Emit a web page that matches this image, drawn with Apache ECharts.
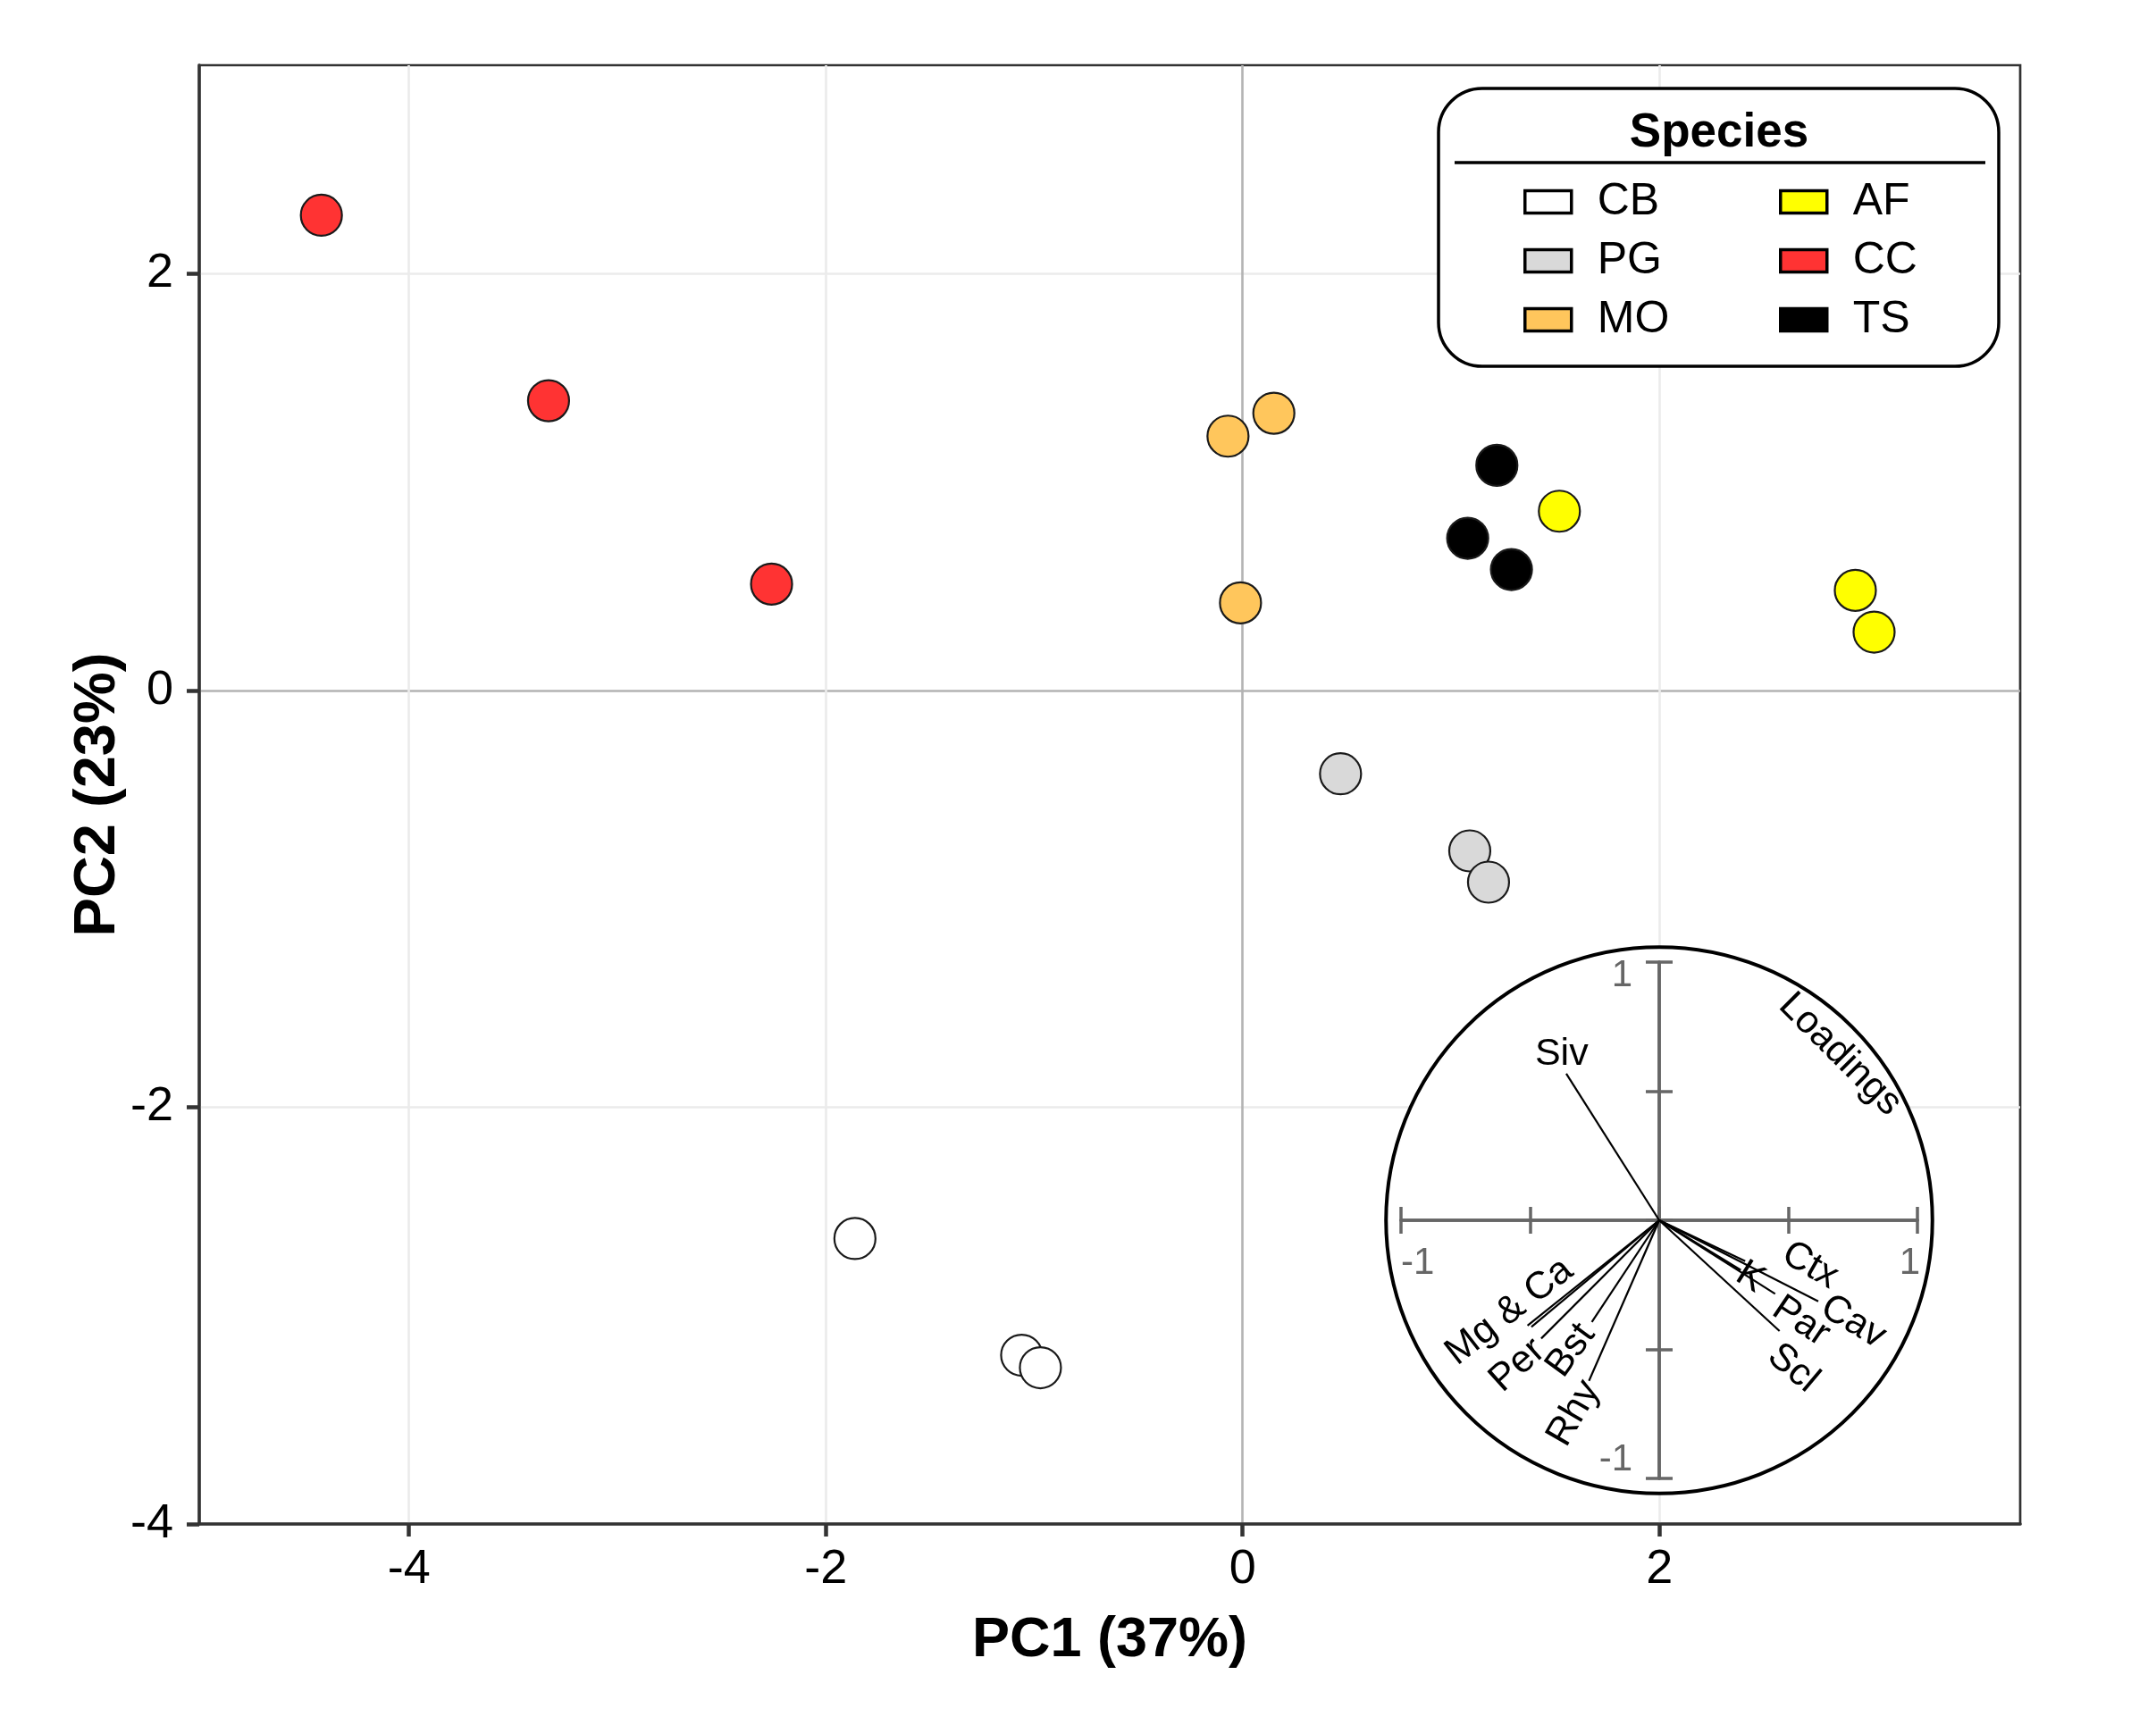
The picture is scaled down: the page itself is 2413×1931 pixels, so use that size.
<!DOCTYPE html>
<html>
<head>
    <meta charset="utf-8">
    <title>PCA Species</title>
    <style>
        html,
        body,
        #chart {
            margin: 0px;
            padding: 0px;
            height: 100%;
            width: 100%;
            background: #ffffff;
        }

        html {
            overflow: hidden;
        }
    </style>
</head>

<body>
    <div id="chart"></div>
    <script src="https://cdn.jsdelivr.net/npm/echarts@6/dist/echarts.min.js"></script>
    <script type="text/javascript">
        // species scores on PC1 / PC2
        var speciesNames = ['CB', 'PG', 'MO', 'AF', 'CC', 'TS'];
        var scoresCB = [[-1.86, -2.63], [-1.06, -3.19], [-0.97, -3.25]];
        var scoresPG = [[0.47, -0.40], [1.09, -0.77], [1.18, -0.92]];
        var scoresMO = [[-0.07, 1.22], [0.15, 1.33], [-0.01, 0.42]];
        var scoresAF = [[1.52, 0.86], [2.94, 0.48], [3.03, 0.28]];
        var scoresCC = [[-4.42, 2.28], [-3.33, 1.39], [-2.26, 0.51]];
        var scoresTS = [[1.22, 1.08], [1.08, 0.73], [1.29, 0.58]];
        var speciesScores = [scoresCB, scoresPG, scoresMO, scoresAF, scoresCC, scoresTS];
        var speciesColors = ['#ffffff', '#d9d9d9', '#ffc65c', '#ffff00', '#ff3333', '#000000'];

        // axis ticks
        var xTicks = [-4, -2, 0, 2];
        var yTicks = [-4, -2, 0, 2];
        var insetTicks = [-1, -0.5, 0, 0.5, 1];
        var insetXLabels = [-1, 1];
        var insetYLabels = [1, -1];

        // loadings (inset)
        var loadingNames = ['Siv', 'Mg', 'Ca', 'Per', 'Bst', 'Rhy', 'Ctx', 'K', 'Cav', 'Par', 'Scl'];
        var loadingPC1 = [-0.36, -0.51, -0.495, -0.457, -0.261, -0.272, 0.333, 0.316, 0.616, 0.449, 0.466];
        var loadingPC2 = [0.568, -0.408, -0.413, -0.458, -0.394, -0.622, -0.158, -0.193, -0.314, -0.285, -0.429];
        var loadingCircle = 1.058;

        // loading labels
        var labelText = ['Siv', 'Mg & Ca', 'Per', 'Bst', 'Rhy', 'Ctx', 'K', 'Par', 'Cav', 'Scl', 'Loadings'];
        var labelPC1 = [-0.378, -0.58, -0.549, -0.342, -0.33, 0.584, 0.353, 0.549, 0.751, 0.518, 0.70];
        var labelPC2 = [0.642, -0.354, -0.562, -0.504, -0.748, -0.175, -0.221, -0.392, -0.394, -0.573, 0.642];
        var labelAngle = [0, 38, 42, 54, 60, -30, -32, -34, -31, -40, -45];

        var FONT = '"Liberation Sans", Arial, Helvetica, sans-serif';

        var chart = echarts.init(document.getElementById('chart'));

        function gridColors(ticks) {
            return ticks.map(function (v) {
                return v === 0 ? '#b3b3b3' : '#ebebeb';
            });
        }

        function mainAxis(ticks, name, gap, nameSize, margin) {
            return {
                gridIndex: 0,
                type: 'value',
                name: name,
                nameLocation: 'middle',
                nameGap: gap,
                nameMoveOverlap: false,
                nameTextStyle: {
                    fontSize: nameSize,
                    fontWeight: 'bold',
                    color: '#000',
                    fontFamily: FONT
                },
                axisLine: {
                    show: true,
                    onZero: false,
                    lineStyle: { color: '#333', width: 3.5 }
                },
                axisTick: {
                    show: true,
                    length: 14,
                    customValues: ticks,
                    lineStyle: { color: '#333', width: 4.5 }
                },
                axisLabel: {
                    customValues: ticks,
                    margin: margin,
                    fontSize: 54,
                    color: '#000',
                    fontFamily: FONT
                },
                splitLine: {
                    show: true,
                    lineStyle: { color: gridColors(ticks), width: 2.6 }
                }
            };
        }

        //inset axes: a pair per direction (opposite sides) so the ticks cross the line
        function insetAxis(position) {
            return {
                gridIndex: 1,
                type: 'value',
                position: position,
                min: -1,
                max: 1,
                z: 4,
                axisLine: {
                    show: true,
                    onZero: true,
                    lineStyle: { color: '#666', width: 3.5 }
                },
                axisTick: {
                    show: true,
                    inside: false,
                    length: 15,
                    customValues: insetTicks,
                    lineStyle: { color: '#666', width: 3.5 }
                },
                axisLabel: { show: false },
                splitLine: { show: false }
            };
        }

        var xMain = mainAxis(xTicks, 'PC1 (37%)', 99, 63, 24);
        xMain.min = -5.006;
        xMain.max = 3.731;
        var yMain = mainAxis(yTicks, 'PC2 (23%)', 80, 65, 29);
        yMain.min = -4;
        yMain.max = 3.0;

        var series = speciesNames.map(function (name, i) {
            return {
                name: name,
                type: 'scatter',
                xAxisIndex: 0,
                yAxisIndex: 0,
                z: 2,
                symbol: 'circle',
                symbolSize: 46,
                itemStyle: {
                    color: speciesColors[i],
                    borderColor: '#1a1a1a',
                    borderWidth: 2.2,
                    opacity: 1
                },
                data: speciesScores[i]
            };
        });

        // correlation circle
        series.push({
            type: 'custom',
            xAxisIndex: 1,
            yAxisIndex: 1,
            z: 3,
            clip: false,
            silent: true,
            data: [[loadingCircle, 0]],
            renderItem: function (params, api) {
                var c = api.coord([0, 0]);
                var e = api.coord([api.value(0), 0]);
                return {
                    type: 'circle',
                    shape: { cx: c[0], cy: c[1], r: e[0] - c[0] },
                    style: { fill: '#fff', stroke: '#000', lineWidth: 4 }
                };
            }
        });

        // inset tick labels (-1 / 1)
        series.push({
            type: 'custom',
            xAxisIndex: 1,
            yAxisIndex: 1,
            z: 4,
            clip: false,
            silent: true,
            data: insetXLabels.map(function (v) {
                return [v, 0];
            }).concat(insetYLabels.map(function (v) {
                return [0, v];
            })),
            renderItem: function (params, api) {
                var vx = api.value(0);
                var vy = api.value(1);
                var p = api.coord([vx, vy]);
                var onX = params.dataIndex < insetXLabels.length;
                var style = {
                    text: String(onX ? vx : vy),
                    fontSize: 42,
                    fontFamily: FONT,
                    fill: '#666'
                };
                if (onX) {
                    style.x = p[0] + (vx < 0 ? 0 : 3);
                    style.y = p[1] + 27;
                    style.align = vx < 0 ? 'left' : 'right';
                    style.verticalAlign = 'top';
                } else {
                    style.x = p[0] - 30;
                    style.y = p[1] + (vy > 0 ? -6 : 0);
                    style.align = 'right';
                    style.verticalAlign = vy > 0 ? 'top' : 'bottom';
                }
                return { type: 'text', style: style };
            }
        });

        // loading vectors
        series.push({
            type: 'custom',
            xAxisIndex: 1,
            yAxisIndex: 1,
            z: 5,
            clip: false,
            silent: true,
            data: loadingPC1.map(function (v, i) {
                return [v, loadingPC2[i]];
            }),
            renderItem: function (params, api) {
                var c = api.coord([0, 0]);
                var e = api.coord([api.value(0), api.value(1)]);
                return {
                    type: 'line',
                    shape: { x1: c[0], y1: c[1], x2: e[0], y2: e[1] },
                    style: { stroke: '#000', lineWidth: 2.2 }
                };
            }
        });

        // loading labels
        series.push({
            type: 'custom',
            xAxisIndex: 1,
            yAxisIndex: 1,
            z: 6,
            clip: false,
            silent: true,
            data: labelPC1.map(function (v, i) {
                return [v, labelPC2[i]];
            }),
            renderItem: function (params, api) {
                var p = api.coord([api.value(0), api.value(1)]);
                return {
                    type: 'text',
                    x: p[0],
                    y: p[1],
                    rotation: labelAngle[params.dataIndex] * Math.PI / 180,
                    style: {
                        text: labelText[params.dataIndex],
                        x: 0,
                        y: 0,
                        fontSize: 43,
                        fontFamily: FONT,
                        fill: '#000',
                        align: 'center',
                        verticalAlign: 'middle'
                    }
                };
            }
        });

        function legendBlock(names, left) {
            return {
                data: names,
                left: left,
                top: 201,
                orient: 'vertical',
                padding: 0,
                itemWidth: 52,
                itemHeight: 25,
                itemGap: 16,
                icon: 'rect',
                selectedMode: false,
                itemStyle: { borderColor: '#000', borderWidth: 3.5 },
                textStyle: {
                    fontSize: 50,
                    lineHeight: 50,
                    color: '#000',
                    fontFamily: FONT,
                    padding: [0, 0, 0, 24]
                }
            };
        }

        chart.setOption({
            animation: false,
            backgroundColor: '#ffffff',
            grid: [{
                left: 223,
                top: 73,
                width: 2038,
                height: 1633,
                show: true,
                borderColor: '#333',
                borderWidth: 2.7,
                outerBoundsMode: 'none'
            }, {
                left: 1568,
                top: 1077,
                width: 578,
                height: 578,
                show: false,
                outerBoundsMode: 'none'
            }],
            xAxis: [xMain, insetAxis('bottom'), insetAxis('top')],
            yAxis: [yMain, insetAxis('left'), insetAxis('right')],
            legend: [
                legendBlock(speciesNames.slice(0, 3), 1705),
                legendBlock(speciesNames.slice(3), 1991)
            ],
            graphic: [{
                type: 'rect',
                z: 3,
                shape: { x: 1610, y: 99, width: 627, height: 311, r: 49 },
                style: { fill: '#fff', stroke: '#000', lineWidth: 3.5 }
            }, {
                type: 'line',
                z: 3,
                shape: { x1: 1628, y1: 182, x2: 2222, y2: 182 },
                style: { stroke: '#000', lineWidth: 3.5 }
            }, {
                type: 'text',
                z: 3,
                x: 1924,
                y: 149,
                style: {
                    text: 'Species',
                    fontSize: 53,
                    fontWeight: 'bold',
                    fontFamily: FONT,
                    fill: '#000',
                    align: 'center',
                    verticalAlign: 'middle'
                }
            }],
            series: series
        });
    </script>
</body>

</html>
